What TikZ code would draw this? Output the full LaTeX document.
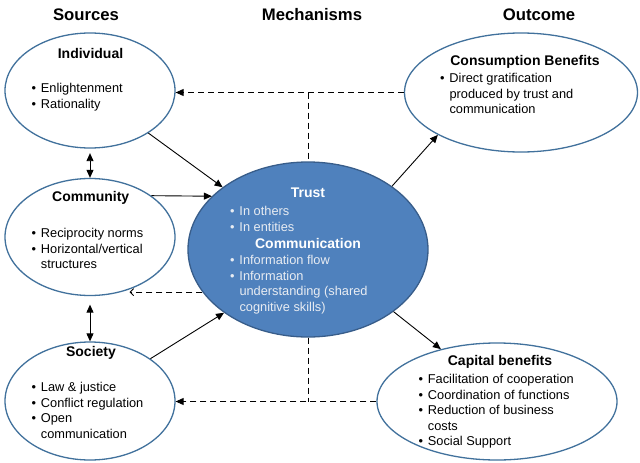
\documentclass[tikz,border=0pt]{standalone}
\usepackage{fontspec}
\setmainfont{Liberation Sans}
\usetikzlibrary{positioning, shapes.geometric, arrows.meta}
\definecolor{ringblue}{RGB}{65,113,156}
\definecolor{coreblue}{RGB}{79,129,189}
\definecolor{coreedge}{RGB}{56,93,138}
\definecolor{corefont}{RGB}{232,236,242}
\newcommand{\itm}{\makebox[9.3pt][l]{\textbullet}}
\newcommand{\cnt}{\hspace*{9.3pt}}
\tikzset{
    source/.style={ellipse, draw=ringblue, line width=1.3pt, fill=white, inner sep=0pt},
    mech/.style={ellipse, draw=coreedge, line width=1.3pt, fill=coreblue, inner sep=0pt},
    heading/.style={font=\fontsize{16.7}{19}\selectfont\bfseries},
    nodetitle/.style={font=\fontsize{14}{16}\selectfont\bfseries},
    items/.style={anchor=north west, inner sep=0pt, align=left, font=\fontsize{12.8}{15.6}\selectfont},
    arrow/.style={-{Triangle[length=8pt,width=7pt]}, line width=0.9pt},
    twoway/.style={{Triangle[length=8pt,width=7pt]}-{Triangle[length=8pt,width=7pt]}, line width=0.9pt},
    feedback/.style={line width=0.9pt, dash pattern=on 6pt off 4pt}
}

\begin{document}
\begin{tikzpicture}[x=1pt, y=-1pt]
\useasboundingbox (0,0) rectangle (640,463);

% Column headings
\node (srchead) [heading] at (86,15) {Sources};
\node (mechhead) [heading] at (312,15) {Mechanisms};
\node (outhead) [heading] at (539,15) {Outcome};

% Sources
\node (indiv) [source, minimum width=170pt, minimum height=115pt] at (90,90.5) {};
\node (comm) [source, minimum width=170pt, minimum height=117pt] at (90,237) {};
\node (soc) [source, minimum width=170pt, minimum height=118pt] at (90,401) {};

% Mechanisms
\node (trust) [mech, minimum width=240pt, minimum height=175pt] at (308,249.5) {};

% Outcomes
\node (cons) [source, minimum width=233pt, minimum height=119pt] at (521,92.5) {};
\node (capital) [source, minimum width=240pt, minimum height=117pt] at (497,401.5) {};

% Texts of the sources
\node (indivT) [nodetitle] at (90.5,53) {Individual};
\node (indivL) [items] at (31.4,83) {\itm Enlightenment\\ \itm Rationality};
\node (commT) [nodetitle] at (90.7,198) {Community};
\node (commL) [items] at (31.4,228) {\itm Reciprocity norms\\ \itm Horizontal/vertical\\ \cnt structures};
\node (socT) [nodetitle] at (91,353) {Society};
\node (socL) [items] at (31.4,382) {\itm Law \& justice\\ \itm Conflict regulation\\ \itm Open\\ \cnt communication};

% Texts of the mechanisms
\node (trustT) [nodetitle, text=white] at (308,193) {Trust};
\node (trustL) [items, text=corefont] at (230,206) {\itm In others\\ \itm In entities};
\node (commuT) [nodetitle, text=white] at (308,243) {Communication};
\node (commuL) [items, text=corefont] at (230,255) {\itm Information flow\\ \itm Information\\ \cnt understanding (shared\\ \cnt cognitive skills)};

% Texts of the outcomes
\node (consT) [nodetitle] at (525,62) {Consumption Benefits};
\node (consL) [items] at (440,73) {\itm Direct gratification\\ \cnt produced by trust and\\ \cnt communication};
\node (capT) [nodetitle] at (500,362) {Capital benefits};
\node (capL) [items] at (418.4,374) {\itm Facilitation of cooperation\\ \itm Coordination of functions\\ \itm Reduction of business\\ \cnt costs\\ \itm Social Support};

% Arrows into the mechanisms
\draw[arrow] (indiv) -- (trust);
\draw[arrow] (comm.34) -- (trust.151);
\draw[arrow] (soc.35) -- (trust.217);

% Arrows to the outcomes
\draw[arrow] (trust.37) -- (cons.207);
\draw[arrow] (trust.324) -- (capital.137);

% Links between the sources
\draw[twoway, shorten <=4.5pt] (indiv.south) -- (comm.north);
\draw[twoway, shorten <=8.5pt] (comm.south) -- (soc.north);

% Feedback lines
\draw[feedback, -{Triangle[length=8pt,width=7pt]}] (cons.west) -- (cons.west -| indiv.east);
\draw[feedback] (trust.north |- cons.west) -- (trust.north);
\draw[feedback, -{Straight Barb[length=3.5pt,width=7pt]}] (trust.202) -- (trust.202 -| comm.-53);
\draw[feedback, -{Triangle[length=8pt,width=7pt]}] (capital.west) -- (capital.west -| soc.east);
\draw[feedback] (trust.south) -- (trust.south |- capital.west);

\end{tikzpicture}
\end{document}
